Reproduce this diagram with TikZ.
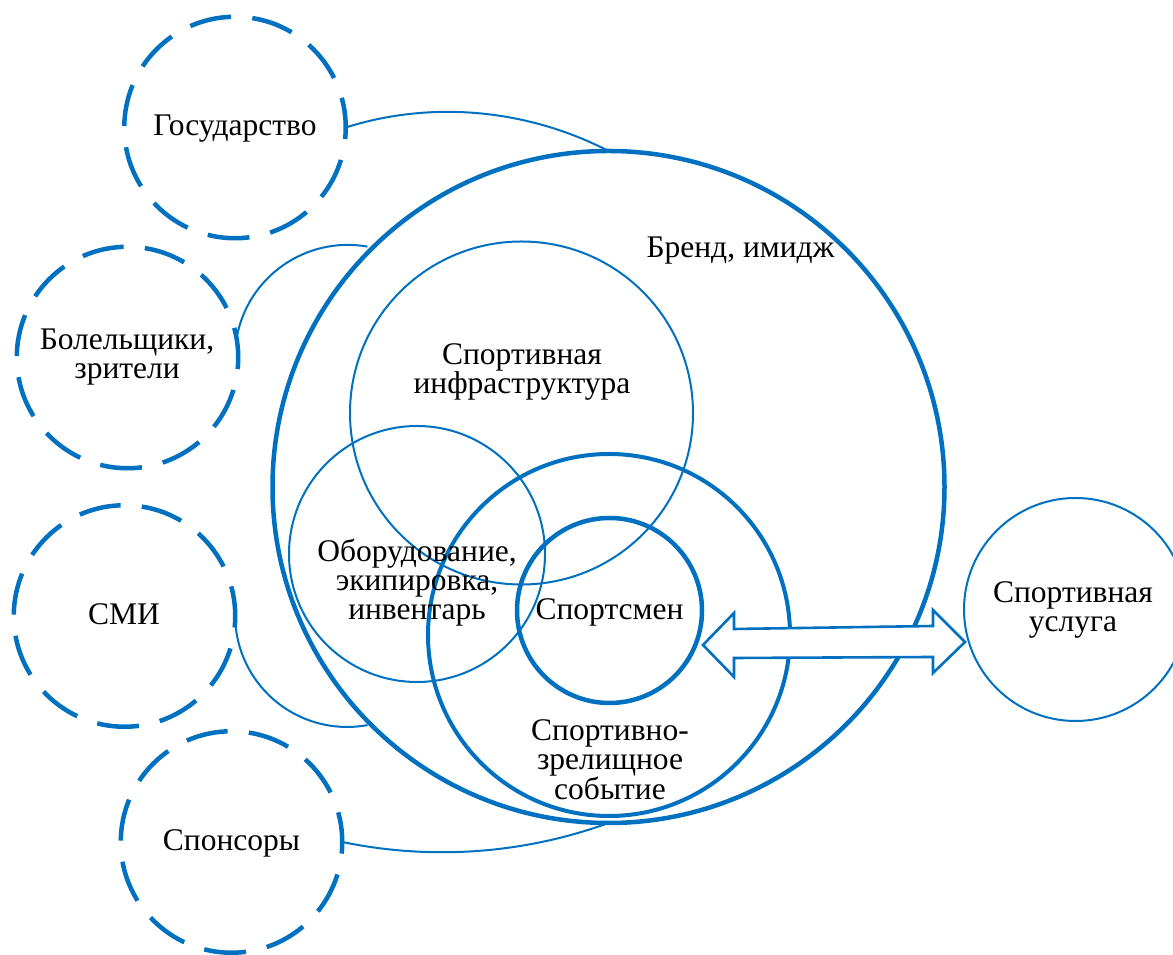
\documentclass[tikz,border=0pt]{standalone}
\usepackage{fontspec}
\setmainfont{Liberation Serif}
\usetikzlibrary{backgrounds}
\definecolor{bl}{HTML}{0070C0}
\begin{document}
\begin{tikzpicture}[x=1pt,y=1pt,
  every node/.style={inner sep=0pt, outer sep=0pt},
  txt/.style={font=\fontsize{31.5}{29}\selectfont, align=center, anchor=base, text=black},
  dcirc/.style={circle, draw=bl, line width=4.5pt, dash pattern=on 42pt off 21.3pt, dash phase=12pt, fill=white, minimum size=221.5pt},
  boldcirc/.style={circle, draw=bl, line width=4.5pt},
  thincirc/.style={circle, draw=bl, line width=2pt},
  thinline/.style={draw=bl, line width=2pt},
  arrowshape/.style={draw=bl, line width=2.6pt, fill=white, line join=miter}
]
\useasboundingbox (0,0) rectangle (1173,955);
% outer influence circles
\node[boldcirc, fill=white, minimum size=672pt] (big) at (608.5,468) {};
\node[dcirc] (gos) at (235,827.5) {};
\node[dcirc] (fans) at (127.5,597.5) {};
\node[dcirc] (media) at (124.5,339) {};
\node[dcirc] (spon) at (231.5,113) {};
\begin{pgfonlayer}{background}
  \draw[thinline] (fans.10) arc[start angle=170, end angle=80, radius=113];
  \draw[thinline] (media.-2) arc[start angle=182.5, end angle=280.5, radius=112];
  \draw[thinline] (gos.east) to[out=17.6, in=152.7, looseness=0.88] (big.north);
  \draw[thinline] (spon.east) to[out=-11.7, in=-160, looseness=0.87] (big.south);
\end{pgfonlayer}
% inner circles
\node[thincirc, minimum size=343pt] (infra) at (521.5,542) {};
\node[thincirc, minimum size=256pt] (equip) at (417,401) {};
\node[boldcirc, line width=4pt, minimum size=362pt] (event) at (609,320) {};
\node[boldcirc, minimum size=185pt] (ath) at (609.5,344.5) {};
\node[thincirc, minimum size=223pt] (serv) at (1075.5,345.5) {};
% double arrow
\draw[arrowshape] (703,310) -- (734,342) -- (734,326) -- (933,329) -- (933,345)
  -- (965,313) -- (933,282) -- (933,298) -- (734,297) -- (734,278) -- cycle;
% texts (base anchor = baseline of the last line)
\node[txt] (tgos) at (235,819) {Государство};
\node[txt] (tfans) at (127,576) {Болельщики,\\зрители};
\node[txt] (tmedia) at (124,330) {СМИ};
\node[txt] (tspon) at (231.5,104) {Спонсоры};
\node[txt] (tbrand) at (740.5,697) {Бренд, имидж};
\node[txt] (tinfra) at (522,561) {Спортивная\\инфраструктура};
\node[txt] (tequip) at (417,335) {Оборудование,\\экипировка,\\инвентарь};
\node[txt] (tath) at (609.5,335) {Спортсмен};
\node[txt] (tevent) at (610,155) {Спортивно-\\зрелищное\\событие};
\node[txt] (tserv) at (1073,323) {Спортивная\\услуга};
\end{tikzpicture}
\end{document}
